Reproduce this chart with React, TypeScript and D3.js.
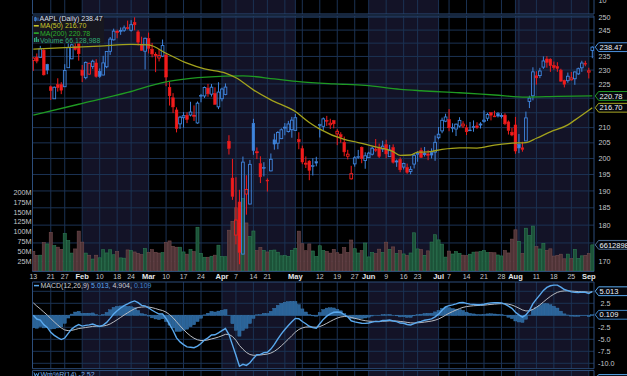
import React from "react";
import * as d3 from "d3";

// ---------------- data (AAPL daily, 2025) ----------------
const dates: string[] = [
  "01-13","01-14","01-15","01-16","01-17","01-21","01-22","01-23","01-24","01-27","01-28","01-29","01-30","01-31",
  "02-03","02-04","02-05","02-06","02-07","02-10","02-11","02-12","02-13","02-14","02-18","02-19","02-20","02-21","02-24","02-25","02-26","02-27","02-28",
  "03-03","03-04","03-05","03-06","03-07","03-10","03-11","03-12","03-13","03-14","03-17","03-18","03-19","03-20","03-21","03-24","03-25","03-26","03-27","03-28","03-31",
  "04-01","04-02","04-03","04-04","04-07","04-08","04-09","04-10","04-11","04-14","04-15","04-16","04-17","04-21","04-22","04-23","04-24","04-25","04-28","04-29","04-30",
  "05-01","05-02","05-05","05-06","05-07","05-08","05-09","05-12","05-13","05-14","05-15","05-16","05-19","05-20","05-21","05-22","05-23","05-27","05-28","05-29","05-30",
  "06-02","06-03","06-04","06-05","06-06","06-09","06-10","06-11","06-12","06-13","06-16","06-17","06-18","06-20","06-23","06-24","06-25","06-26","06-27","06-30",
  "07-01","07-02","07-03","07-07","07-08","07-09","07-10","07-11","07-14","07-15","07-16","07-17","07-18","07-21","07-22","07-23","07-24","07-25","07-28","07-29","07-30","07-31",
  "08-01","08-04","08-05","08-06","08-07","08-08","08-11","08-12","08-13","08-14","08-15","08-18","08-19","08-20","08-21","08-22","08-25","08-26","08-27","08-28","08-29",
  "09-02","09-03",
];

const opens: number[] = [
  233.53,234.75,234.64,237.35,232.12,224.0,219.79,224.74,224.78,224.02,230.85,234.12,238.67,247.19,
  229.99,227.25,228.53,231.29,232.6,229.57,228.2,231.2,236.91,241.25,244.15,244.66,244.94,245.95,244.93,248.0,244.33,239.41,236.95,
  241.79,237.71,235.42,234.44,235.11,235.54,223.81,220.14,215.95,211.25,213.31,214.16,214.22,213.99,211.56,221.0,220.77,223.51,221.39,221.67,217.01,
  219.81,221.32,205.54,193.89,177.2,186.7,171.95,189.07,186.1,211.44,201.86,198.36,197.2,193.27,196.12,206.0,204.89,206.37,210.0,208.69,209.3,
  209.08,206.09,203.1,198.21,199.17,197.72,199.0,210.97,210.43,212.43,210.95,212.36,207.91,207.67,205.17,200.71,193.67,198.3,200.59,203.58,199.37,
  200.28,201.35,202.91,203.5,203.0,204.39,200.6,203.5,199.08,199.73,197.3,197.2,195.94,198.24,201.63,202.59,201.45,201.43,201.89,202.01,
  206.67,208.91,212.15,212.68,210.1,209.53,210.51,210.57,209.93,209.22,210.3,210.57,210.87,212.1,213.14,215.0,213.9,214.7,214.03,214.18,211.9,208.49,
  210.87,204.51,203.4,205.63,218.88,220.83,227.92,228.01,231.07,234.06,234.0,231.7,231.28,229.98,226.27,226.17,226.48,226.87,228.61,230.82,232.51,
  229.25,237.21,
];
const highs: number[] = [
  234.67,236.12,238.96,238.01,232.29,224.42,224.12,227.03,225.63,232.15,240.19,239.86,240.79,247.19,
  231.83,233.13,232.67,233.8,234.0,230.59,235.23,236.96,242.34,245.55,245.18,246.01,246.78,248.69,248.86,250.0,244.98,242.46,242.09,
  244.03,240.07,236.55,237.86,241.37,236.16,225.84,221.75,216.84,213.95,215.22,215.15,218.76,217.49,218.84,221.48,224.1,225.02,224.99,223.81,225.62,
  223.68,225.19,207.49,199.88,194.15,190.34,200.61,194.78,199.54,212.94,203.51,200.7,198.83,193.8,201.59,208.0,208.83,209.75,211.5,212.24,213.58,
  214.56,208.47,204.1,200.65,199.44,200.05,200.54,211.27,213.4,213.94,212.96,212.57,209.48,208.47,207.04,202.75,197.7,200.74,202.73,203.81,201.96,
  202.13,203.77,206.24,204.75,205.7,206.0,204.35,204.5,199.68,200.37,198.69,198.39,197.57,201.7,202.3,203.44,203.67,202.64,203.22,207.39,
  210.19,213.34,214.65,216.23,211.43,211.33,213.48,212.13,210.91,211.89,212.4,211.8,211.79,215.78,214.95,215.15,215.69,215.24,214.85,214.81,212.39,209.84,
  213.58,207.88,205.34,215.38,220.85,231.0,229.56,230.8,235.0,235.12,234.28,233.12,232.87,230.47,226.52,229.09,229.3,229.49,230.9,233.41,233.38,
  230.85,238.85,
];
const lows: number[] = [
  229.72,232.47,234.43,228.03,228.48,219.38,219.79,222.3,221.41,223.98,230.81,234.01,237.21,233.44,
  225.7,226.65,228.27,230.43,227.26,227.2,228.13,230.68,235.57,240.99,241.84,243.16,244.29,245.22,244.42,244.91,239.13,237.06,230.2,
  236.11,234.68,229.23,233.16,234.76,224.22,217.45,214.91,208.42,209.58,209.97,211.49,213.75,212.22,211.28,218.58,220.08,220.47,220.56,217.68,216.23,
  218.9,221.02,201.25,187.34,174.62,169.21,171.89,183.0,186.06,201.16,199.8,192.37,194.42,189.81,195.97,202.8,202.94,206.2,207.46,208.37,206.67,
  208.9,202.94,198.21,197.02,193.25,194.68,197.54,206.75,209.0,210.58,209.54,209.77,204.26,205.03,200.71,199.7,193.46,197.43,199.9,198.51,196.78,
  200.12,200.96,202.1,200.15,202.05,200.02,200.57,198.41,197.36,195.7,196.56,195.21,195.07,196.86,198.96,200.2,200.62,199.46,200.0,199.26,
  206.14,208.14,211.81,208.8,208.45,207.22,210.03,209.86,207.54,208.92,208.64,209.59,209.7,211.63,212.23,212.41,213.53,213.4,213.06,210.82,207.72,207.16,
  201.5,201.68,202.16,205.59,216.58,219.25,224.76,227.07,230.43,230.85,229.34,230.11,229.35,225.77,223.78,225.41,226.23,224.69,228.26,229.34,231.37,
  226.97,234.36,
];
const closes: number[] = [
  234.4,233.28,237.87,228.26,229.98,222.64,223.83,223.66,222.78,229.86,238.26,239.36,237.59,236.0,
  228.01,232.8,232.47,233.22,227.63,227.65,232.62,236.87,241.53,244.6,244.47,244.87,245.83,245.55,247.1,247.04,240.36,237.3,241.84,
  238.03,235.93,235.74,235.33,239.07,227.48,220.84,216.98,209.68,213.49,214.0,212.69,215.24,214.1,218.27,220.73,223.75,221.53,223.85,217.9,222.13,
  223.19,223.89,203.19,188.38,181.46,172.42,198.85,190.42,198.15,202.52,202.14,194.27,196.98,193.16,199.74,204.6,208.37,209.28,210.14,211.21,212.5,
  213.32,205.35,198.89,198.51,196.25,197.49,198.53,210.79,212.93,212.33,211.45,211.26,208.78,206.86,202.09,201.36,195.27,200.21,200.42,199.95,200.85,
  201.7,203.27,202.82,200.63,203.92,201.45,202.67,198.78,199.2,196.45,198.42,195.64,196.58,201.0,201.5,200.3,201.56,201.0,201.08,205.17,
  207.82,212.44,213.55,209.95,210.01,211.14,212.41,211.16,208.62,209.11,210.16,210.02,211.18,212.48,214.4,214.15,213.76,213.88,214.05,211.27,209.05,207.57,
  202.38,203.35,202.92,213.25,220.03,229.35,227.18,229.65,233.33,232.78,231.59,230.89,230.56,226.01,224.9,227.76,227.16,229.31,230.49,232.56,232.14,
  229.72,238.47,
];
const firstPrevClose = 236.85;

// volume, millions of shares
const volumes: number[] = [
  49.6,39.4,39.8,71.8,68.5,98.1,64.1,60.2,54.7,94.9,77.3,45.1,55.7,101.1,
  73.1,45.1,39.6,29.9,39.7,33.1,53.7,45.5,53.6,40.9,48.8,32.9,32.2,53.2,51.3,48.0,44.4,41.2,56.8,
  47.2,53.8,47.2,45.2,46.3,72.0,76.1,62.5,60.1,60.1,48.1,42.4,54.4,48.9,111.0,44.3,34.5,34.5,37.1,39.8,65.3,
  36.4,35.9,103.4,125.9,160.5,120.3,184.4,121.9,87.4,101.4,51.3,59.7,52.2,48.0,52.3,52.9,47.3,38.2,38.7,36.8,52.3,
  57.4,101.0,69.0,51.2,68.5,50.5,36.5,63.8,51.9,49.3,45.0,54.7,46.1,42.5,59.2,46.7,78.4,56.3,45.3,51.4,70.8,
  35.4,46.4,43.6,55.1,46.6,72.9,54.7,60.9,43.9,51.4,43.0,38.9,45.4,96.8,55.8,54.1,39.5,50.8,73.2,91.9,
  78.8,67.9,34.9,50.2,42.8,48.7,44.4,39.8,38.8,42.3,47.5,48.0,48.9,51.4,46.4,46.9,46.0,40.3,37.9,51.4,45.5,80.7,
  104.4,75.1,44.2,108.5,90.2,113.9,61.8,55.6,69.9,51.9,56.0,37.5,39.4,42.3,30.6,42.5,30.9,54.6,31.3,38.1,39.4,
  44.1,66.129,
];

// moving averages
const ma50Dates = ["01-13","01-27","02-10","02-24","03-03","03-10","03-18","03-25","04-02","04-07","04-14","04-22","05-01","05-07","05-12","05-21","05-28","06-04","06-11","06-13","06-18","06-23","06-26","07-02","07-10","07-17","07-24","07-31","08-06","08-11","08-15","08-22","08-26","09-03"];
const ma50Values = [237.7,238.3,238.9,239.5,239.3,236.2,232.5,230.4,228.9,227.2,222.9,219.4,215.4,211.7,209.5,206.1,205.1,203.7,202.2,201.0,201.1,202.0,202.1,202.9,203.4,203.3,204.3,204.9,205.1,206.5,208.6,210.9,212.5,216.7];
const ma200Dates = ["01-13","01-31","02-21","03-07","03-19","04-02","04-09","04-23","05-02","05-16","05-30","06-13","06-24","07-10","07-24","08-06","08-19","09-03"];
const ma200Values = [214.2,217.9,222.0,225.5,227.0,227.8,227.9,226.8,225.8,225.0,224.5,223.1,222.6,221.9,221.1,220.4,220.6,220.78];

const ema12Seed = 243.0;
const ema26Seed = 243.0;
const signalSeed = 2.6;

// axes
const priceTicks = [170,175,180,185,190,195,200,205,210,215,220,225,230,235,240,245,250];
const volumeTicks = [25,50,75,100,125,150,175,200];
const macdTicks = [5,2.5,0,-2.5,-5,-7.5,-10];
const macdTickLabels = ["", "2.5", "", "-2.5", "-5.0", "-7.5", "-10.0"];
const tickDates = ["01-13","01-21","01-27","02-03","02-10","02-18","02-24","03-03","03-10","03-17","03-24","04-01","04-07","04-14","04-21","05-01","05-12","05-19","05-27","06-02","06-09","06-16","06-23","07-01","07-07","07-14","07-21","07-28","08-01","08-11","08-18","08-25","09-02"];
const tickLabels = ["13","21","27","Feb","10","18","24","Mar","10","17","24","Apr","7","14","21","May","12","19","27","Jun","9","16","23","Jul","7","14","21","28","Aug","11","18","25","Sep"];
const extraGridDates = ["04-28","05-05","08-04"];
const shadedMonths = ["02","04","06","08"];

// ---------------- drawing ----------------
const W = 627, H = 376;
const L = 32.5, R = 594;
const BAND = "#131327";
const GRID = "#1b3253";
const BORDER = "#2c4d7a";
const UP = "#3f85de";
const DOWN = "#f21c1c";
const FONT = "'Liberation Sans', Arial, sans-serif";

function ValueBox({ cy, text, stroke, color = "#eef2f8" }: { cy: number; text: string; stroke: string; color?: string }) {
  const h = 4.4;
  const d = `M595.2,${cy} L598.6,${cy - h} L630,${cy - h} L630,${cy + h} L598.6,${cy + h} Z`;
  return (
    <g>
      <path d={d} fill="#05070d" stroke={stroke} strokeWidth={1} />
      <text x={599.6} y={cy + 2.7} fontSize={7.5} fill={color} fontFamily={FONT}>{text}</text>
    </g>
  );
}

export default function App() {
  const n = dates.length;
  const idx = (d: string) => dates.indexOf(d);
  const x = d3.scaleLinear().domain([0, n - 1]).range([33.3, 592.3]);
  const yP = d3.scaleLog().domain([170, 250]).range([261.3, 17.3]);
  const yV = d3.scaleLinear().domain([0, 200]).range([270.8, 192.3]);
  const yM = d3.scaleLinear().domain([-10, 2.5]).range([363.3, 303.3]);

  const panels = [
    { t: 0, b: 14 },
    { t: 16, b: 271.5 },
    { t: 282, b: 368.7 },
    { t: 370.5, b: 376 },
  ];

  const bands = shadedMonths.map((m) => {
    const first = dates.findIndex((d) => d.startsWith(m + "-"));
    const nextM = String(Number(m) + 1).padStart(2, "0");
    let next = dates.findIndex((d) => d.startsWith(nextM + "-"));
    if (next < 0) next = n - 1;
    return { x0: x(first), x1: x(next) };
  });

  const gridX = [...tickDates.slice(1), ...extraGridDates].map((d) => x(idx(d)));

  // MACD
  const macd: number[] = [];
  const signal: number[] = [];
  let e12 = ema12Seed, e26 = ema26Seed, sg = signalSeed;
  closes.forEach((c, i) => {
    if (i > 0) {
      e12 += (2 / 13) * (c - e12);
      e26 += (2 / 27) * (c - e26);
    }
    const m = e12 - e26;
    if (i > 0) sg += 0.2 * (m - sg);
    macd.push(m);
    signal.push(sg);
  });
  const hist = macd.map((m, i) => m - signal[i]);

  const lineIdx = d3.line<number>().x((_, i) => x(i)).y((v) => yM(v));
  const maLine = d3
    .line<[number, number]>()
    .x((p) => x(p[0]))
    .y((p) => yP(p[1]))
    .curve(d3.curveMonotoneX);
  const ma50Path = maLine(ma50Dates.map((d, i) => [idx(d), ma50Values[i]] as [number, number]));
  const ma200Path = maLine(ma200Dates.map((d, i) => [idx(d), ma200Values[i]] as [number, number]));

  const last = n - 1;
  const bw = 2.7;

  // price-axis value boxes (ticks hidden underneath them are not drawn)
  const boxYs = [yV(volumes[last]), yP(220.78), yP(216.7), yP(closes[last])];
  const visiblePriceTicks = priceTicks.filter((t) => boxYs.every((by) => Math.abs(yP(t) - by) > 5.8));

  return (
    <div style={{ width: W, height: H, background: "#000" }}>
      <style>{`body{margin:0;background:#000}`}</style>
      <svg width={W} height={H} style={{ display: "block" }} fontFamily={FONT}>
        <defs>
          <clipPath id="mainClip"><rect x={L} y={16} width={R - L} height={255.5} /></clipPath>
          <clipPath id="macdClip"><rect x={L} y={282} width={R - L} height={86.7} /></clipPath>
        </defs>
        <rect x={0} y={0} width={W} height={H} fill="#000" />

        {panels.map((p, k) => (
          <g key={"p" + k}>
            {bands.map((b, j) => (
              <rect key={j} x={b.x0} y={p.t} width={b.x1 - b.x0} height={p.b - p.t} fill={BAND} />
            ))}
            {gridX.map((gx, j) => (
              <line key={j} x1={gx} x2={gx} y1={p.t} y2={p.b} stroke={GRID} strokeWidth={1} />
            ))}
          </g>
        ))}

        {priceTicks.map((t) => (
          <line key={t} x1={L} x2={R} y1={yP(t)} y2={yP(t)} stroke={GRID} strokeWidth={1} />
        ))}
        {macdTicks.map((t) => (
          <line key={t} x1={L} x2={R} y1={yM(t)} y2={yM(t)} stroke={GRID} strokeWidth={1} />
        ))}

        <line x1={L} x2={R} y1={14} y2={14} stroke={BORDER} />
        {panels.slice(1).map((p, k) => (
          <g key={"b" + k}>
            <line x1={L} x2={R} y1={p.t} y2={p.t} stroke={BORDER} />
            {k < 2 && <line x1={L} x2={R} y1={p.b} y2={p.b} stroke={BORDER} />}
          </g>
        ))}
        {panels.map((p, k) => (
          <g key={"s" + k}>
            <line x1={L} x2={L} y1={p.t} y2={p.b} stroke={BORDER} />
            <line x1={R} x2={R} y1={p.t} y2={p.b} stroke={BORDER} />
          </g>
        ))}

        <g clipPath="url(#mainClip)">
          {volumes.map((v, i) => {
            const prev = i === 0 ? firstPrevClose : closes[i - 1];
            const up = closes[i] >= prev;
            const top = yV(v);
            return (
              <rect
                key={i}
                x={x(i) - 1.55}
                y={top}
                width={3.1}
                height={yV(0) - top}
                fill={up ? "#1c5238" : "#4e3336"}
                stroke={up ? "#2d7a53" : "#704a4d"}
                strokeWidth={0.6}
              />
            );
          })}
        </g>

        <g clipPath="url(#mainClip)">
          {closes.map((c, i) => {
            const o = opens[i];
            const prev = i === 0 ? firstPrevClose : closes[i - 1];
            const col = c >= prev ? UP : DOWN;
            const hollow = c > o;
            const cx = x(i);
            const yt = yP(Math.max(o, c));
            const yb = yP(Math.min(o, c));
            const hgt = Math.max(0.9, yb - yt);
            return (
              <g key={i}>
                <line x1={cx} x2={cx} y1={yP(highs[i])} y2={yt} stroke={col} strokeWidth={1} />
                <line x1={cx} x2={cx} y1={yt + hgt} y2={yP(lows[i])} stroke={col} strokeWidth={1} />
                <rect
                  x={cx - bw / 2}
                  y={yt}
                  width={bw}
                  height={hgt}
                  fill={hollow ? "none" : col}
                  stroke={col}
                  strokeWidth={hollow ? 0.9 : 0.5}
                />
              </g>
            );
          })}
          <path d={ma200Path || ""} fill="none" stroke="#1f9a22" strokeWidth={1.3} />
          <path d={ma50Path || ""} fill="none" stroke="#a3a21c" strokeWidth={1.3} />
        </g>

        <rect x={L + 0.5} y={16.5} width={71} height={27} fill="#17171f" opacity={0.95} />
        <g fontSize={7}>
          <line x1={35.5} x2={35.5} y1={16.8} y2={21.5} stroke={UP} strokeWidth={0.8} />
          <rect x={34.5} y={17.8} width={2} height={2.6} fill="none" stroke={UP} strokeWidth={0.7} />
          <line x1={38} x2={38} y1={17.5} y2={21} stroke={UP} strokeWidth={0.8} />
          <text x={39.5} y={21.4} fill="#d5dfeb">AAPL (Daily) 238.47</text>
          <line x1={33.8} x2={38.8} y1={25.8} y2={25.8} stroke="#c9c72a" strokeWidth={1.6} />
          <text x={40} y={28.3} fill="#c9c72a">MA(50) 216.70</text>
          <line x1={33.8} x2={38.8} y1={33.1} y2={33.1} stroke="#2bb02b" strokeWidth={1.6} />
          <text x={40} y={35.6} fill="#2bb02b">MA(200) 220.78</text>
          <rect x={34} y={38} width={1.3} height={4} fill="#2fa878" />
          <rect x={35.8} y={37} width={1.3} height={5} fill="#2fa878" />
          <rect x={37.6} y={39} width={1.3} height={3} fill="#2fa878" />
          <text x={40} y={42.5} fill="#2fa878">Volume 66,128,988</text>
        </g>

        <g clipPath="url(#macdClip)">
          {hist.map((h, i) => {
            const y0 = yM(0), y1 = yM(h);
            return (
              <rect key={i} x={x(i) - 1.6} y={Math.min(y0, y1)} width={3.2} height={Math.abs(y1 - y0)} fill="#2a6398" stroke="#3b7bb5" strokeWidth={0.4} />
            );
          })}
          <path d={lineIdx(signal) || ""} fill="none" stroke="#b9bcc2" strokeWidth={1} />
          <path d={lineIdx(macd) || ""} fill="none" stroke="#5aa9ee" strokeWidth={1.4} />
        </g>
        <line x1={34} x2={39} y1={285.6} y2={285.6} stroke="#5aa9ee" strokeWidth={1.5} />
        <text x={40.5} y={288.1} fontSize={7}>
          <tspan fill="#c9ccd2">MACD(12,26,9) </tspan>
          <tspan fill="#5aa9ee">5.013, </tspan>
          <tspan fill="#c9ccd2">4.904, </tspan>
          <tspan fill="#3f86c8">0.109</tspan>
        </text>

        <polyline points="34,372.5 35.2,376 36.5,373.5 37.8,376 39,372.5" fill="none" stroke="#5aa9ee" strokeWidth={0.9} />
        <text x={40.5} y={376.6} fontSize={7} fill="#7eaee0">Wm%R(14) -2.52</text>

        {tickDates.map((d, j) => {
          const lab = tickLabels[j];
          const bold = isNaN(Number(lab));
          return (
            <text
              key={d}
              x={x(idx(d))}
              y={278.6}
              fontSize={bold ? 7.5 : 7}
              fontWeight={bold ? "bold" : "normal"}
              fill={bold ? "#e4e6ea" : "#c4c7cc"}
              textAnchor="middle"
            >
              {lab}
            </text>
          );
        })}

        {visiblePriceTicks.map((t) => (
          <text key={t} x={598.5} y={yP(t) + 2.6} fontSize={7.2} fill="#c4c7cc">{t}</text>
        ))}
        <text x={598.5} y={3.2} fontSize={7.2} fill="#c4c7cc">10</text>

        {volumeTicks.map((t) => (
          <text key={t} x={31.5} y={yV(t) + 2.6} fontSize={7.2} fill="#c4c7cc" textAnchor="end">{t}M</text>
        ))}

        {macdTicks.map((t, j) =>
          macdTickLabels[j] ? (
            <text key={t} x={t > 0 ? 600.5 : 598} y={yM(t) + 2.6} fontSize={7.2} fill="#c4c7cc">{macdTickLabels[j]}</text>
          ) : null
        )}

        <ValueBox cy={boxYs[0]} text="66128988" stroke="#4f6f96" />
        <ValueBox cy={boxYs[1]} text="220.78" stroke="#239b26" />
        <ValueBox cy={boxYs[2]} text="216.70" stroke="#a9a722" />
        <ValueBox cy={boxYs[3]} text={closes[last].toFixed(2)} stroke="#4d93e0" />
        <ValueBox cy={yM(5.013)} text="5.013" stroke="#5aa9ee" />
        <ValueBox cy={yM(0.109)} text="0.109" stroke="#3f86c8" />
        <ValueBox cy={379} text="-2.52" stroke="#5aa9ee" />
      </svg>
    </div>
  );
}
